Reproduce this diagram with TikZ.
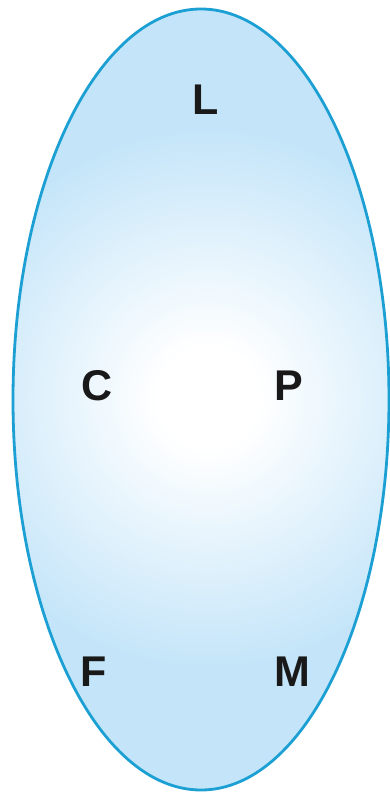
\documentclass[tikz,border=0pt]{standalone}
\usepackage{fontspec}
\setmainfont{Liberation Sans}
\usetikzlibrary{positioning}

\definecolor{rimblue}{RGB}{28,160,212}
\definecolor{skyfill}{RGB}{196,229,249}
% White glow in the middle, light blue towards the rim
\pgfdeclareradialshading{glow}{\pgfpoint{0bp}{0bp}}{color(0bp)=(white); color(3bp)=(white); color(16bp)=(skyfill); color(50bp)=(skyfill)}

\begin{document}
\begin{tikzpicture}[
    x=1pt, y=-1pt,
    rim/.style={draw=rimblue, line width=2.8pt}, % Style for the ellipse
    letter/.style={font=\bfseries\fontsize{43}{43}\selectfont, text=black!90, inner sep=0pt} % Style for labels
]

    % Picture size
    \useasboundingbox (0,0) rectangle (390,792);

    % Fill with a round glow in the middle
    \begin{scope}
        \clip (201,399.5) ellipse [x radius=188, y radius=390.5];
        \fill[skyfill] (0,0) rectangle (390,792);
        \shade[shading=glow] (208,398) circle [radius=420];
    \end{scope}

    % The ellipse
    \draw[rim] (201,399.5) ellipse [x radius=188, y radius=390.5];

    % Labels
    \node[letter] (L) at (206,100) {L};
    \node[letter] (C) at (97,386) {C};
    \node[letter] (P) at (289,386) {P};
    \node[letter] (F) at (94,672) {F};
    \node[letter] (M) at (292,672) {M};

\end{tikzpicture}
\end{document}
